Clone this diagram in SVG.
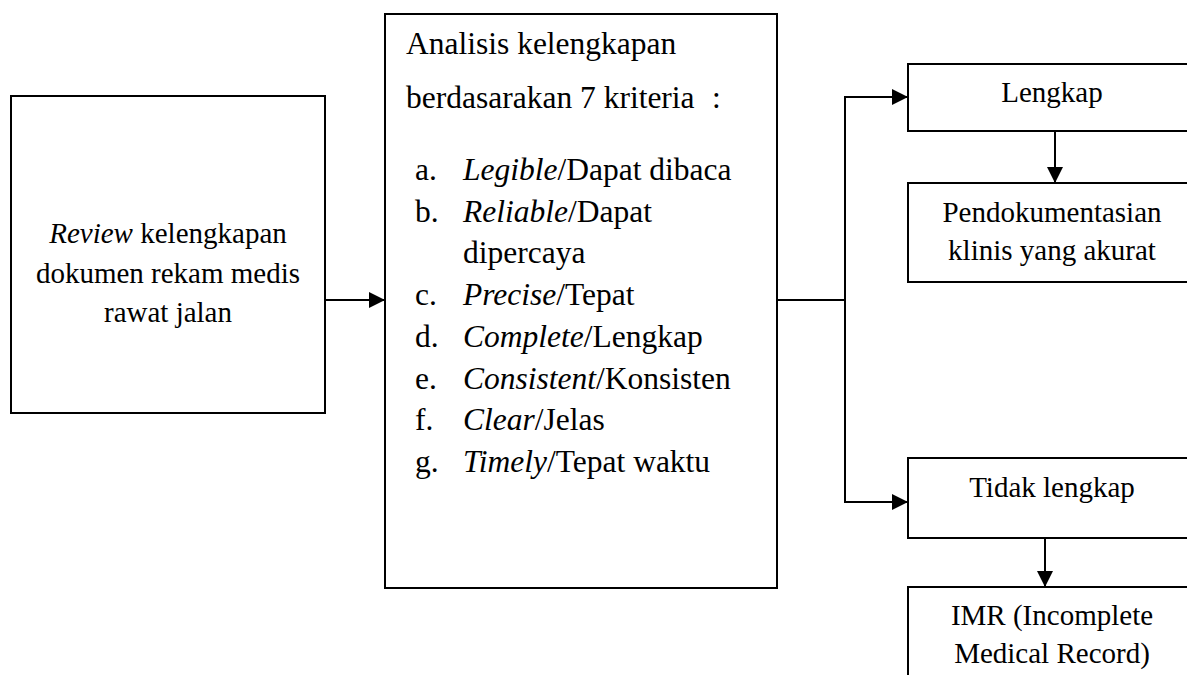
<svg xmlns="http://www.w3.org/2000/svg" width="1187" height="675" viewBox="0 0 1187 675">
<style>
.box{fill:#fff;stroke:#000;stroke-width:2}
.t{font-family:"Liberation Serif","Times New Roman",serif;fill:#000}
.s29{font-size:29px}
.s32{font-size:31.5px}
.c{text-anchor:middle}
.i{font-style:italic}
.ln{fill:none;stroke:#000;stroke-width:2}
</style>
<defs>
<marker id="ah" markerUnits="userSpaceOnUse" markerWidth="16" markerHeight="16" viewBox="0 0 16 16" refX="16" refY="8" orient="auto">
<path d="M0,0 L16,8 L0,16 Z" fill="#000"/>
</marker>
</defs>
<rect width="1187" height="675" fill="#fff"/>
<g id="review">
<rect class="box" x="11" y="96" width="314" height="317"/>
<text class="t s29 c" x="168" y="243"><tspan class="i">Review</tspan> kelengkapan</text>
<text class="t s29 c" x="168" y="283">dokumen rekam medis</text>
<text class="t s29 c" x="168" y="322">rawat jalan</text>
</g>
<g id="analisis">
<rect class="box" x="385" y="14" width="392" height="574"/>
<text class="t s32" x="406" y="54">Analisis kelengkapan</text>
<text class="t s32" x="406" y="108">berdasarakan 7 kriteria</text>
<text class="t s32" x="712" y="108">:</text>
<text class="t s32" x="415" y="180">a.</text><text class="t s32" x="463" y="180"><tspan class="i">Legible</tspan>/Dapat dibaca</text>
<text class="t s32" x="415" y="222">b.</text><text class="t s32" x="463" y="222"><tspan class="i">Reliable</tspan>/Dapat</text>
<text class="t s32" x="463" y="263">dipercaya</text>
<text class="t s32" x="415" y="305">c.</text><text class="t s32" x="463" y="305"><tspan class="i">Precise</tspan>/Tepat</text>
<text class="t s32" x="415" y="347">d.</text><text class="t s32" x="463" y="347"><tspan class="i">Complete</tspan>/Lengkap</text>
<text class="t s32" x="415" y="389">e.</text><text class="t s32" x="463" y="389"><tspan class="i">Consistent</tspan>/Konsisten</text>
<text class="t s32" x="415" y="430">f.</text><text class="t s32" x="463" y="430"><tspan class="i">Clear</tspan>/Jelas</text>
<text class="t s32" x="415" y="472">g.</text><text class="t s32" x="463" y="472"><tspan class="i">Timely</tspan>/Tepat waktu</text>
</g>
<g id="lengkap">
<rect class="box" x="908" y="64" width="300" height="67"/>
<text class="t s29 c" x="1052" y="102">Lengkap</text>
</g>
<g id="akurat">
<rect class="box" x="908" y="183" width="300" height="99"/>
<text class="t s29 c" x="1052" y="222">Pendokumentasian</text>
<text class="t s29 c" x="1052" y="260">klinis yang akurat</text>
</g>
<g id="tidak">
<rect class="box" x="908" y="458" width="300" height="80"/>
<text class="t s29 c" x="1052" y="497">Tidak lengkap</text>
</g>
<g id="imr">
<rect class="box" x="908" y="587" width="300" height="120"/>
<text class="t s29 c" x="1052" y="625">IMR (Incomplete</text>
<text class="t s29 c" x="1052" y="663">Medical Record)</text>
</g>
<g id="connectors">
<line class="ln" x1="325" y1="300" x2="385" y2="300" marker-end="url(#ah)"/>
<polyline class="ln" points="777,300 845,300"/>
<polyline class="ln" points="845,300 845,97 908,97" marker-end="url(#ah)"/>
<polyline class="ln" points="845,300 845,502 908,502" marker-end="url(#ah)"/>
<line class="ln" x1="1055" y1="131" x2="1055" y2="183" marker-end="url(#ah)"/>
<line class="ln" x1="1045" y1="538" x2="1045" y2="587" marker-end="url(#ah)"/>
</g>
</svg>
